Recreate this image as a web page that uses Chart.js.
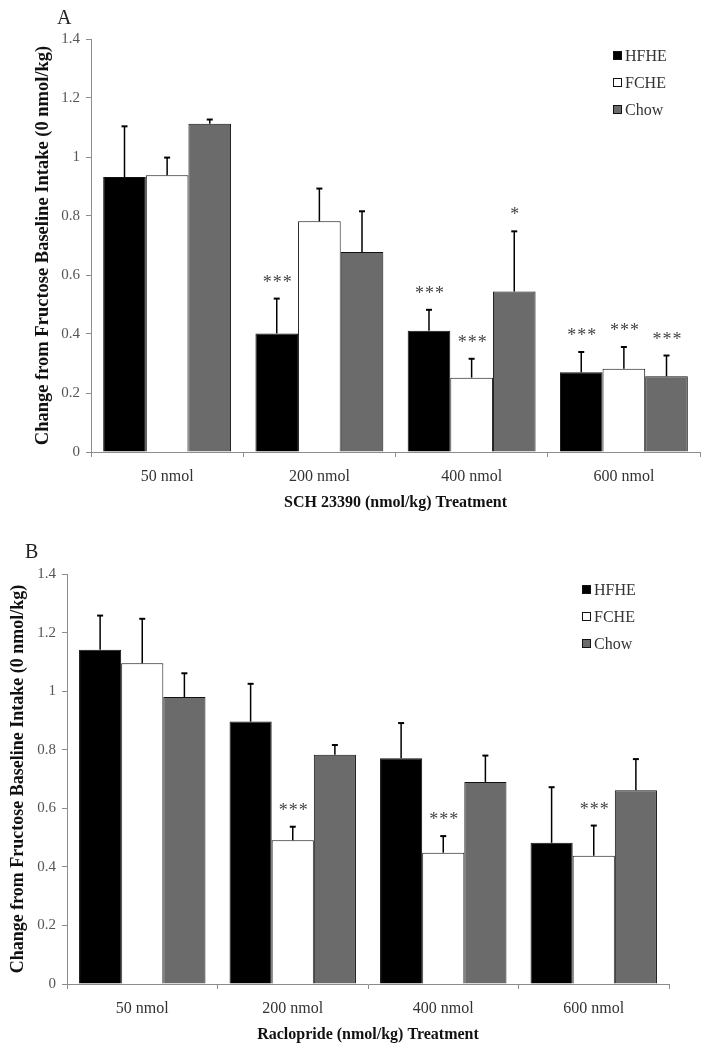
<!DOCTYPE html>
<html>
<head>
<meta charset="utf-8">
<script src="https://cdn.jsdelivr.net/npm/chart.js@4.4.1/dist/chart.umd.min.js"></script>
<style>
  body { margin: 0; background: #fff; }
  canvas { position: absolute; left: 0; }
  #chartA { top: 0; }
  #chartB { top: 525px; }
</style>
</head>
<body>
<canvas id="chartA" width="712" height="525"></canvas>
<canvas id="chartB" width="712" height="525"></canvas>
<script>
// Categorías y series
const categories = ['50 nmol', '200 nmol', '400 nmol', '600 nmol'];
const seriesNames = ['HFHE', 'FCHE', 'Chow'];
const yTicks = [0, 0.2, 0.4, 0.6, 0.8, 1, 1.2, 1.4];

// Panel A: SCH 23390
const hfheA = [0.932, 0.402, 0.411, 0.270];
const fcheA = [0.938, 0.782, 0.252, 0.282];
const chowA = [1.113, 0.678, 0.544, 0.257];
const hfheErrA = [0.172, 0.118, 0.071, 0.069];
const fcheErrA = [0.060, 0.111, 0.064, 0.074];
const chowErrA = [0.014, 0.138, 0.204, 0.070];
const hfheSigA = ['', '***', '***', '***'];
const fcheSigA = ['', '', '***', '***'];
const chowSigA = ['', '', '*', '***'];

// Panel B: Raclopride
const hfheB = [1.141, 0.896, 0.771, 0.482];
const fcheB = [1.095, 0.491, 0.448, 0.438];
const chowB = [0.980, 0.783, 0.690, 0.662];
const hfheErrB = [0.117, 0.129, 0.120, 0.190];
const fcheErrB = [0.152, 0.046, 0.057, 0.103];
const chowErrB = [0.081, 0.033, 0.090, 0.106];
const hfheSigB = ['', '', '', ''];
const fcheSigB = ['', '***', '***', '***'];
const chowSigB = ['', '', '', ''];

const colors = ['#000000', '#ffffff', '#6b6b6b'];
const serif = "'Liberation Serif', 'Times New Roman', serif";
const axisGray = '#8c8c8c';

// Barras de error (solo hacia arriba) y asteriscos
const errorBarsPlugin = {
    id: 'errorBars',
    afterDatasetsDraw(chart) {
        const ctx = chart.ctx;
        const yScale = chart.scales.y;
        chart.data.datasets.forEach((ds, i) => {
            const meta = chart.getDatasetMeta(i);
            meta.data.forEach((bar, j) => {
                const top = yScale.getPixelForValue(ds.data[j] + ds.errors[j]);
                const base = yScale.getPixelForValue(ds.data[j]);
                ctx.save();
                ctx.strokeStyle = '#000';
                ctx.lineWidth = 1.5;
                ctx.beginPath();
                ctx.moveTo(bar.x, base);
                ctx.lineTo(bar.x, top);
                ctx.stroke();
                ctx.lineWidth = 2;
                ctx.beginPath();
                ctx.moveTo(bar.x - 3, top);
                ctx.lineTo(bar.x + 3, top);
                ctx.stroke();
                const sig = ds.sig[j];
                if (sig) {
                    ctx.fillStyle = '#444';
                    ctx.font = '18px ' + serif;
                    ctx.textAlign = 'center';
                    ctx.textBaseline = 'alphabetic';
                    if ('letterSpacing' in ctx) ctx.letterSpacing = '1px';
                    ctx.fillText(sig, bar.x + 1, top - 11);
                }
                ctx.restore();
            });
        });
    }
};

// Leyenda y letra del panel
const decorPlugin = {
    id: 'decor',
    afterDraw(chart, args, opts) {
        const ctx = chart.ctx;
        ctx.save();
        ctx.font = '20px ' + serif;
        ctx.fillStyle = '#222';
        ctx.textBaseline = 'alphabetic';
        ctx.textAlign = 'left';
        ctx.fillText(opts.letter, opts.letterX, opts.letterY);
        ctx.font = '16px ' + serif;
        ctx.textBaseline = 'middle';
        chart.data.datasets.forEach((ds, i) => {
            const y = opts.legendY + i * 27;
            ctx.fillStyle = ds.backgroundColor;
            ctx.fillRect(opts.legendX, y - 5, 9, 9);
            ctx.strokeStyle = '#111';
            ctx.lineWidth = 1;
            ctx.strokeRect(opts.legendX + 0.5, y - 4.5, 8, 8);
            ctx.fillStyle = '#333';
            ctx.fillText(ds.label, opts.legendX + 12, y + 1);
        });
        ctx.restore();
    }
};

function drawPanel(canvas, series, errs, sigs, xTitle, layout) {
    const datasets = seriesNames.map((name, i) => ({
        label: name,
        data: series[i],
        errors: errs[i],
        sig: sigs[i],
        backgroundColor: colors[i],
        borderColor: '#111',
        borderWidth: 1,
        categoryPercentage: 0.84,
        barPercentage: 1.0
    }));

    new Chart(canvas, {
        type: 'bar',
        data: { labels: categories, datasets: datasets },
        options: {
            responsive: false,
            animation: false,
            layout: { padding: { top: layout.padTop, right: layout.padRight, left: 0, bottom: 0 } },
            scales: {
                y: {
                    min: 0,
                    max: 1.4,
                    afterFit: s => { s.width = layout.axisLeft; },
                    afterBuildTicks: s => { s.ticks = yTicks.map(v => ({ value: v })); },
                    ticks: {
                        color: '#555',
                        padding: 6,
                        font: { family: serif, size: 15 },
                        callback: v => String(+v.toFixed(1))
                    },
                    grid: { drawOnChartArea: false, tickLength: 5, color: axisGray },
                    border: { color: axisGray, width: 1 },
                    title: {
                        display: true,
                        text: 'Change from Fructose Baseline Intake (0 nmol/kg)',
                        color: '#111',
                        font: { family: serif, size: layout.yTitleSize, weight: 'bold' },
                        padding: { top: layout.yTitlePad, bottom: 0 }
                    }
                },
                x: {
                    afterFit: s => { s.height = layout.axisHeight; },
                    ticks: {
                        color: '#333',
                        padding: 10,
                        maxRotation: 0,
                        font: { family: serif, size: 16 }
                    },
                    grid: { drawOnChartArea: false, tickLength: 5, color: axisGray, offset: true },
                    border: { color: axisGray, width: 1 },
                    title: {
                        display: true,
                        text: xTitle,
                        color: '#111',
                        font: { family: serif, size: 16, weight: 'bold' },
                        padding: { top: 0, bottom: layout.xTitlePad }
                    }
                }
            },
            plugins: {
                legend: { display: false },
                tooltip: { enabled: false },
                decor: layout.decor
            }
        },
        plugins: [errorBarsPlugin, decorPlugin]
    });
}

drawPanel(document.getElementById('chartA'),
    [hfheA, fcheA, chowA], [hfheErrA, fcheErrA, chowErrA], [hfheSigA, fcheSigA, chowSigA],
    'SCH 23390 (nmol/kg) Treatment',
    { padTop: 39, padRight: 12, axisLeft: 91, axisHeight: 73, yTitlePad: 32, yTitleSize: 18.5, xTitlePad: 13,
      decor: { letter: 'A', letterX: 57, letterY: 24, legendX: 613, legendY: 56 } });

drawPanel(document.getElementById('chartB'),
    [hfheB, fcheB, chowB], [hfheErrB, fcheErrB, chowErrB], [hfheSigB, fcheSigB, chowSigB],
    'Raclopride (nmol/kg) Treatment',
    { padTop: 49, padRight: 43, axisLeft: 67, axisHeight: 66, yTitlePad: 8, yTitleSize: 18, xTitlePad: 6,
      decor: { letter: 'B', letterX: 25, letterY: 33, legendX: 582, legendY: 65 } });
</script>
</body>
</html>
